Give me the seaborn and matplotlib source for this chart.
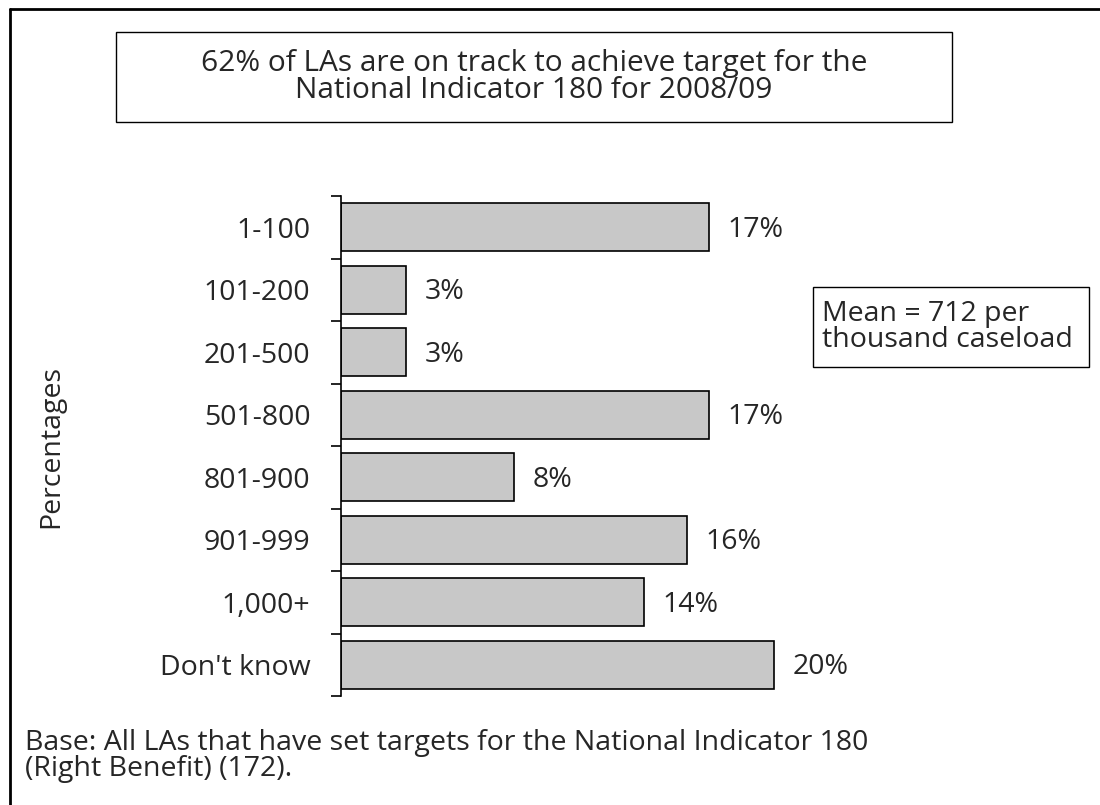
import matplotlib
matplotlib.use('Agg')
import matplotlib.pyplot as plt
from matplotlib.lines import Line2D
from matplotlib.patches import Rectangle
import seaborn as sns
import pandas as pd
import numpy as np

categories = ['1-100', '101-200', '201-500', '501-800', '801-900', '901-999', '1,000+', "Don't know"]
percentages = [17, 3, 3, 17, 8, 16, 14, 20]

title = '62% of LAs are on track to achieve target for the\nNational Indicator 180 for 2008/09'
note = 'Mean = 712 per\nthousand caseload'
footnote = 'Base: All LAs that have set targets for the National Indicator 180\n(Right Benefit) (172).'

sns.set_style('white')
plt.rcParams['font.family'] = ['Open Sans', 'DejaVu Sans']

df = pd.DataFrame({'Band': categories, 'Pct': percentages})

W, H = 1100, 805
FS = 20.5
fig = plt.figure(figsize=(11, 8.05), dpi=100)
ax = fig.add_axes([341 / W, 109 / H, 541 / W, 500 / H])

sns.barplot(data=df, x='Pct', y='Band', orient='h', color='#c8c8c8',
            edgecolor='black', linewidth=1.2, width=0.77, saturation=1, ax=ax)

ax.set_xlim(0, 25)
ax.set_ylim(len(categories) - 0.5, -0.5)
ax.set_xlabel('')
ax.set_ylabel('Percentages', fontsize=FS)
ax.yaxis.set_label_coords((65 - 341) / 541, 0.5)
for s in ['top', 'right', 'bottom']:
    ax.spines[s].set_visible(False)
ax.spines['left'].set_linewidth(1.2)
ax.spines['left'].set_color('black')
ax.set_xticks([])
ax.tick_params(axis='y', which='major', left=False, length=0, pad=22, labelsize=FS)
ax.set_yticks(np.arange(-0.5, len(categories)), minor=True)
ax.tick_params(axis='y', which='minor', left=True, length=7, width=1.2, color='black', direction='out')

for i, v in enumerate(percentages):
    ax.text(v + 0.85, i + 0.04, f'{v}%', va='center', ha='left', fontsize=FS)

# outer frame: top and left edges only
fig.add_artist(Line2D([10 / W, 1], [(H - 9) / H, (H - 9) / H], transform=fig.transFigure,
                      color='black', linewidth=2))
fig.add_artist(Line2D([10 / W, 10 / W], [0, (H - 9) / H], transform=fig.transFigure,
                      color='black', linewidth=2))

# title box
fig.patches.append(Rectangle((116 / W, (H - 122) / H), 836 / W, 90 / H, transform=fig.transFigure,
                             fill=False, edgecolor='black', linewidth=1))
fig.text(534 / W, (H - 77) / H, title, ha='center', va='center', fontsize=21.5, linespacing=0.95)

# mean box
fig.patches.append(Rectangle((813 / W, (H - 367) / H), 276 / W, 80 / H, transform=fig.transFigure,
                             fill=False, edgecolor='black', linewidth=1))
fig.text(822 / W, (H - 327) / H, note, ha='left', va='center', fontsize=FS, linespacing=0.95)

fig.text(25 / W, (H - 756) / H, footnote, ha='left', va='center', fontsize=FS, linespacing=0.95)

fig.savefig('out.png', dpi=100)
